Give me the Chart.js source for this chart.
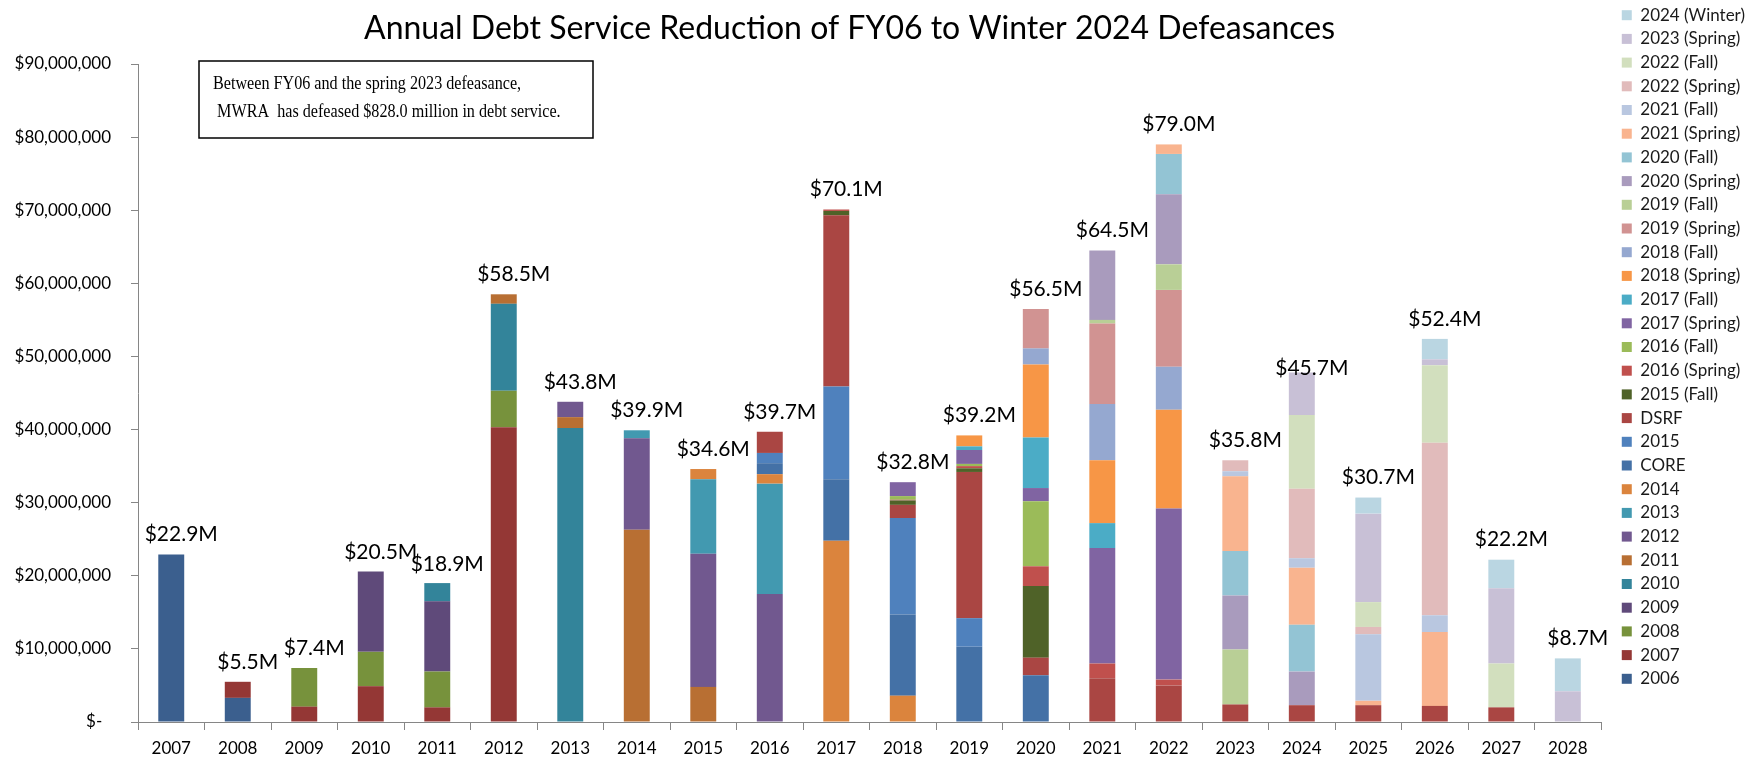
<!DOCTYPE html>
<html>
<head>
<meta charset="utf-8">
<title>Annual Debt Service Reduction of FY06 to Winter 2024 Defeasances</title>
<script src="https://cdn.jsdelivr.net/npm/chart.js@4.4.1/dist/chart.umd.min.js"></script>
<style>
  html, body { margin: 0; padding: 0; background: #fff; }
</style>
</head>
<body>
<canvas id="chart" width="1760" height="758"></canvas>
<script>
// fiscal years on the x axis
const years = ['2007','2008','2009','2010','2011','2012','2013','2014','2015','2016','2017',
               '2018','2019','2020','2021','2022','2023','2024','2025','2026','2027','2028'];

// labelled totals above each bar, in $ millions
const totals = [22.9, 5.5, 7.4, 20.5, 18.9, 58.5, 43.8, 39.9, 34.6, 39.7, 70.1,
                32.8, 39.2, 56.5, 64.5, 79.0, 35.8, 45.7, 30.7, 52.4, 22.2, 8.7];

// defeasance series, bottom of the stack first ($ millions per year)
const seriesNames = ['2006','2007','2008','2009','2010','2011','2012','2013','2014','CORE','2015','DSRF',
  '2015 (Fall)','2016 (Spring)','2016 (Fall)','2017 (Spring)','2017 (Fall)','2018 (Spring)','2018 (Fall)',
  '2019 (Spring)','2019 (Fall)','2020 (Spring)','2020 (Fall)','2021 (Spring)','2021 (Fall)',
  '2022 (Spring)','2022 (Fall)','2023 (Spring)','2024 (Winter)'];

//                 07    08   09   10    11   12    13    14    15    16    17    18    19    20   21   22   23   24   25   26   27   28
const d2006   = [22.9, 3.3, 0,   0,    0,   0,    0,    0,    0,    0,    0,    0,    0,    0,   0,   0,   0,   0,   0,   0,   0,   0];
const d2007   = [0,    2.2, 2.1, 4.9,  2.0, 40.3, 0,    0,    0,    0,    0,    0,    0,    0,   0,   0,   0,   0,   0,   0,   0,   0];
const d2008   = [0,    0,   5.3, 4.7,  4.9, 5.0,  0,    0,    0,    0,    0,    0,    0,    0,   0,   0,   0,   0,   0,   0,   0,   0];
const d2009   = [0,    0,   0,   11.0, 9.6, 0,    0,    0,    0,    0,    0,    0,    0,    0,   0,   0,   0,   0,   0,   0,   0,   0];
const d2010   = [0,    0,   0,   0,    2.5, 11.9, 40.2, 0,    0,    0,    0,    0,    0,    0,   0,   0,   0,   0,   0,   0,   0,   0];
const d2011   = [0,    0,   0,   0,    0,   1.3,  1.5,  26.3, 4.8,  0,    0,    0,    0,    0,   0,   0,   0,   0,   0,   0,   0,   0];
const d2012   = [0,    0,   0,   0,    0,   0,    2.1,  12.5, 18.2, 17.5, 0,    0,    0,    0,   0,   0,   0,   0,   0,   0,   0,   0];
const d2013   = [0,    0,   0,   0,    0,   0,    0,    1.1,  10.2, 15.1, 0,    0,    0,    0,   0,   0,   0,   0,   0,   0,   0,   0];
const d2014   = [0,    0,   0,   0,    0,   0,    0,    0,    1.4,  1.3,  24.8, 3.6,  0,    0,   0,   0,   0,   0,   0,   0,   0,   0];
const dCore   = [0,    0,   0,   0,    0,   0,    0,    0,    0,    1.5,  8.4,  11.1, 10.3, 6.4, 0,   0,   0,   0,   0,   0,   0,   0];
const d2015   = [0,    0,   0,   0,    0,   0,    0,    0,    0,    1.4,  12.7, 13.2, 3.9,  0,   0,   0,   0,   0,   0,   0,   0,   0];
const dDsrf   = [0,    0,   0,   0,    0,   0,    0,    0,    0,    2.9,  23.4, 1.8,  20.0, 2.4, 6.0, 5.0, 2.4, 2.3, 2.3, 2.2, 2.0, 0];
const d2015F  = [0,    0,   0,   0,    0,   0,    0,    0,    0,    0,    0.6,  0.6,  0.5,  9.8, 0,   0,   0,   0,   0,   0,   0,   0];
const d2016S  = [0,    0,   0,   0,    0,   0,    0,    0,    0,    0,    0.2,  0.1,  0.3,  2.7, 2.0, 0.8, 0,   0,   0,   0,   0,   0];
const d2016F  = [0,    0,   0,   0,    0,   0,    0,    0,    0,    0,    0,    0.5,  0.3,  8.9, 0,   0,   0,   0,   0,   0,   0,   0];
const d2017S  = [0,    0,   0,   0,    0,   0,    0,    0,    0,    0,    0,    1.9,  1.9,  1.8, 15.8,23.4,0,   0,   0,   0,   0,   0];
const d2017F  = [0,    0,   0,   0,    0,   0,    0,    0,    0,    0,    0,    0,    0.5,  6.9, 3.4, 0,   0,   0,   0,   0,   0,   0];
const d2018S  = [0,    0,   0,   0,    0,   0,    0,    0,    0,    0,    0,    0,    1.5,  10.0,8.6, 13.5,0,   0,   0,   0,   0,   0];
const d2018F  = [0,    0,   0,   0,    0,   0,    0,    0,    0,    0,    0,    0,    0,    2.2, 7.7, 5.9, 0,   0,   0,   0,   0,   0];
const d2019S  = [0,    0,   0,   0,    0,   0,    0,    0,    0,    0,    0,    0,    0,    5.4, 11.0,10.5,0,   0,   0,   0,   0,   0];
const d2019F  = [0,    0,   0,   0,    0,   0,    0,    0,    0,    0,    0,    0,    0,    0,   0.5, 3.5, 7.5, 0,   0,   0,   0,   0];
const d2020S  = [0,    0,   0,   0,    0,   0,    0,    0,    0,    0,    0,    0,    0,    0,   9.5, 9.6, 7.4, 4.6, 0,   0,   0,   0];
const d2020F  = [0,    0,   0,   0,    0,   0,    0,    0,    0,    0,    0,    0,    0,    0,   0,   5.5, 6.1, 6.4, 0,   0,   0,   0];
const d2021S  = [0,    0,   0,   0,    0,   0,    0,    0,    0,    0,    0,    0,    0,    0,   0,   1.3, 10.2,7.8, 0.6, 10.1,0,   0];
const d2021F  = [0,    0,   0,   0,    0,   0,    0,    0,    0,    0,    0,    0,    0,    0,   0,   0,   0.7, 1.3, 9.1, 2.3, 0,   0];
const d2022S  = [0,    0,   0,   0,    0,   0,    0,    0,    0,    0,    0,    0,    0,    0,   0,   0,   1.5, 9.5, 1.0, 23.6,0,   0];
const d2022F  = [0,    0,   0,   0,    0,   0,    0,    0,    0,    0,    0,    0,    0,    0,   0,   0,   0,   10.1,3.4, 10.6,6.0, 0];
const d2023S  = [0,    0,   0,   0,    0,   0,    0,    0,    0,    0,    0,    0,    0,    0,   0,   0,   0,   5.8, 12.1,0.8, 10.3,4.2];
const d2024W  = [0,    0,   0,   0,    0,   0,    0,    0,    0,    0,    0,    0,    0,    0,   0,   0,   0,   0,   2.2, 2.8, 3.9, 4.5];

const seriesValues = [d2006, d2007, d2008, d2009, d2010, d2011, d2012, d2013, d2014, dCore, d2015, dDsrf,
  d2015F, d2016S, d2016F, d2017S, d2017F, d2018S, d2018F, d2019S, d2019F, d2020S, d2020F,
  d2021S, d2021F, d2022S, d2022F, d2023S, d2024W];

const seriesColors = ['#3B5F8E','#943735','#77923C','#5F4A7A','#33849A','#B86F33','#71588F','#4299B0',
  '#DB843D','#4471A6','#4F81BD','#AA4643','#4F6228','#C0504D','#9BBB59','#8064A2','#4BACC6',
  '#F79646','#95A8D0','#D19392','#B9CF96','#A99BBD','#93C4D4','#F9B48F','#B9C7E0','#E1BBBB',
  '#D2DFBE','#C8C0D6','#BAD6E2'];

const noteLines = ['Between FY06 and the spring 2023 defeasance,',
                   ' MWRA  has defeased $828.0 million in debt service.'];

const axisGrey = '#868686';

const datasets = seriesNames.map((name, i) => ({
    label: name,
    data: seriesValues[i],
    backgroundColor: seriesColors[i],
    borderWidth: 0,
    categoryPercentage: 1,
    barPercentage: 0.39
}));

// nudge title and legend like the original layout
const boxNudge = {
    id: 'boxNudge',
    afterLayout(chart) {
        chart.titleBlock.left -= 20;
        chart.titleBlock.right -= 20;
        chart.legend.left += 14;
        chart.legend.right += 14;
    }
};

// "$xx.xM" above each stack
const totalLabels = {
    id: 'totalLabels',
    afterDatasetsDraw(chart) {
        const ctx = chart.ctx;
        const x = chart.scales.x, y = chart.scales.y;
        ctx.save();
        ctx.font = '21px Lato';
        ctx.fillStyle = '#000';
        ctx.textAlign = 'center';
        ctx.textBaseline = 'middle';
        totals.forEach((v, i) => {
            ctx.fillText('$' + v.toFixed(1) + 'M', x.getPixelForValue(i) + 10, y.getPixelForValue(v) - 20);
        });
        ctx.restore();
    }
};

// boxed note in the upper left of the plot
const noteBox = {
    id: 'noteBox',
    afterDraw(chart) {
        const ctx = chart.ctx;
        const left = chart.chartArea.left + 61;
        const top = chart.chartArea.top - 3;
        ctx.save();
        ctx.fillStyle = '#fff';
        ctx.fillRect(left, top, 394, 77);
        ctx.strokeStyle = '#000';
        ctx.lineWidth = 1.5;
        ctx.strokeRect(left, top, 394, 77);
        ctx.fillStyle = '#000';
        ctx.font = '19px "Liberation Serif"';
        ctx.textBaseline = 'middle';
        noteLines.forEach((line, i) => {
            ctx.save();
            ctx.translate(left + 14, top + 23 + i * 28);
            ctx.scale(0.85, 1);
            ctx.fillText(line, 0, 0);
            ctx.restore();
        });
        ctx.restore();
    }
};

new Chart(document.getElementById('chart').getContext('2d'), {
    type: 'bar',
    data: {labels: years, datasets: datasets},
    options: {
        responsive: false,
        animation: false,
        layout: {padding: {left: 14, right: 19, top: 0, bottom: 0}},
        scales: {
            x: {
                stacked: true,
                offset: true,
                afterFit: s => { s.height = 36; },
                grid: {drawOnChartArea: false, drawTicks: true, tickLength: 8, color: axisGrey, offset: true},
                border: {color: axisGrey, width: 1},
                ticks: {font: {family: 'Lato', size: 17}, color: '#000', padding: 8, maxRotation: 0}
            },
            y: {
                stacked: true,
                min: 0,
                max: 90,
                afterFit: s => { s.width = 124; },
                grid: {drawOnChartArea: false, drawTicks: true, tickLength: 7, color: axisGrey},
                border: {color: axisGrey, width: 1},
                ticks: {
                    stepSize: 10,
                    font: {family: 'Lato', size: 17},
                    color: '#000',
                    padding: 20,
                    callback: v => v === 0 ? '$-  ' : '$' + (v * 1e6).toLocaleString('en-US')
                }
            }
        },
        plugins: {
            title: {
                display: true,
                text: 'Annual Debt Service Reduction of FY06 to Winter 2024 Defeasances',
                fullSize: false,
                color: '#000',
                font: {family: 'Lato', size: 32, weight: 'normal'},
                padding: {top: 9, bottom: 16.6}
            },
            legend: {
                position: 'right',
                align: 'start',
                reverse: true,
                labels: {
                    boxWidth: 10,
                    boxHeight: 10,
                    padding: 6.7,
                    color: '#1a1a1a',
                    font: {family: 'Lato', size: 17}
                }
            },
            tooltip: {enabled: false}
        }
    },
    plugins: [boxNudge, totalLabels, noteBox]
});
</script>
</body>
</html>
